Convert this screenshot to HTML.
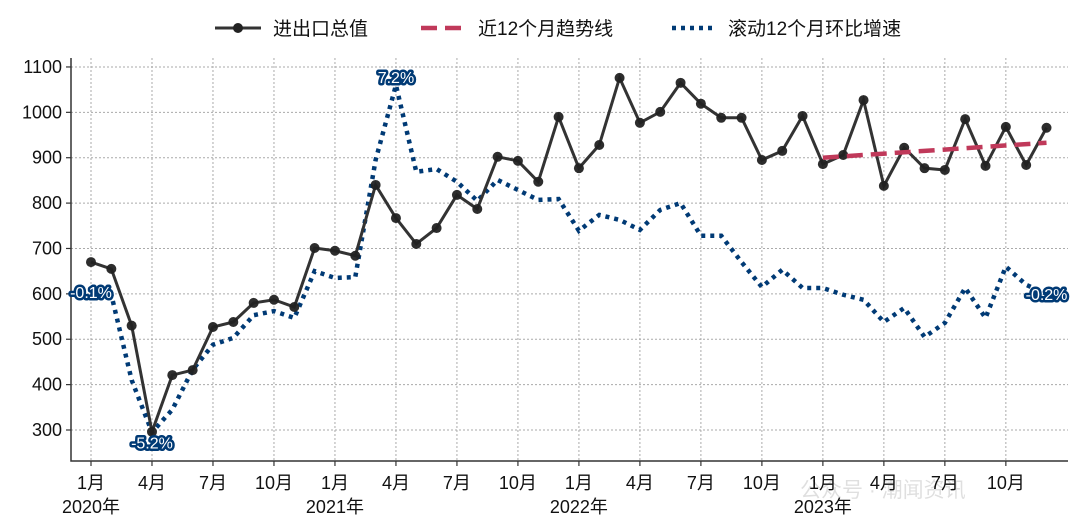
<!DOCTYPE html>
<html><head><meta charset="utf-8">
<style>
html,body{margin:0;padding:0;background:#fff;}
svg{display:block;font-family:"Liberation Sans","Noto Sans CJK SC",sans-serif;}
</style></head>
<body>
<svg id="chart" width="1080" height="530" viewBox="0 0 1080 530">
<g id="grid"></g>
<g id="axes"></g>
<g id="series"></g>
<g id="labels"></g>
<g id="legend">
  <g>
    <line x1="215" y1="28" x2="261" y2="28" stroke="#333" stroke-width="3"/>
    <circle cx="238" cy="28" r="5" fill="#222"/>
    <text x="273" y="35" font-size="19" fill="#111">进出口总值</text>
  </g>
  <g>
    <line x1="421" y1="28" x2="465" y2="28" stroke="#c0395a" stroke-width="4.5" stroke-dasharray="16,8"/>
    <text x="478" y="35" font-size="19" fill="#111">近12个月趋势线</text>
  </g>
  <g>
    <line x1="672" y1="28" x2="716" y2="28" stroke="#003a75" stroke-width="4.5" stroke-dasharray="4,5"/>
    <text x="728" y="35" font-size="19" fill="#111">滚动12个月环比增速</text>
  </g>
</g>
<text x="800" y="497" font-size="21" fill="#000" opacity="0.12">公众号 · 潮闻资讯</text>
</svg>
<script>
const months = ["1月","2月","3月","4月","5月","6月","7月","8月","9月","10月","11月","12月"];
const years = ["2020年","2021年","2022年","2023年"];
const yTicks = [300,400,500,600,700,800,900,1000,1100];
const totalValues = [670,655,530,296,421,432,527,538,580,587,571,701,
  695,684,840,767,710,745,818,787,902,893,847,990,
  877,928,1076,977,1001,1065,1019,988,988,895,915,992,
  886,906,1027,838,922,877,873,985,882,968,884,966];
const growthValues = [604,598,410,295,345,433,488,503,553,562,547,650,
  635,637,895,1060,869,875,847,805,851,829,807,809,
  739,774,763,741,785,800,728,728,670,615,653,613,
  613,598,587,538,569,505,536,613,547,660,620,600];
const trendStart = 900, trendEnd = 933;
const growthLabels = [[0,"-0.1%"],[3,"-5.2%"],[15,"7.2%"],[47,"-0.2%"]];

const NS="http://www.w3.org/2000/svg";
const X0=91, DX=20.33, Y0=430, YK=0.4538;
const xs=i=>X0+i*DX;
const ys=v=>Y0-(v-300)*YK;
function mk(tag,attrs,parent){const e=document.createElementNS(NS,tag);for(const k in attrs)e.setAttribute(k,attrs[k]);parent.appendChild(e);return e;}
const grid=document.getElementById('grid'),axes=document.getElementById('axes'),series=document.getElementById('series'),labels=document.getElementById('labels');
const L=71,R=1068,T=58,B=461;
yTicks.forEach(v=>{
  const y=ys(v);
  const g=mk('line',{x1:L,x2:R,y1:y,y2:y,stroke:'#aaa','stroke-width':1,'stroke-dasharray':'2,2'},grid);
  
  
  mk('line',{x1:L-5,x2:L,y1:y,y2:y,stroke:'#333','stroke-width':1.2},axes);
  const t=mk('text',{x:L-9,y:y+6,'text-anchor':'end','font-size':18,fill:'#111'},axes);
  t.textContent=v;
  
  
});
for(let i=0;i<48;i+=3){
  const x=xs(i);
  const g=mk('line',{x1:x,x2:x,y1:T,y2:B,stroke:'#aaa','stroke-width':1,'stroke-dasharray':'2,2'},grid);
  
  
  mk('line',{x1:x,x2:x,y1:B,y2:B+5,stroke:'#333','stroke-width':1.2},axes);
  const t=mk('text',{x:x,y:489,'text-anchor':'middle','font-size':18,fill:'#111'},axes);
  t.textContent=months[i%12];
  
  
  if(i%12===0){
    const yt=mk('text',{x:x,y:513,'text-anchor':'middle','font-size':18,fill:'#111'},axes);
    yt.textContent=years[i/12];
    
    
  }
}
mk('path',{d:`M${L},${T}V${B}H${R}`,fill:'none',stroke:'#333','stroke-width':1.5},axes);

const gp=mk('polyline',{points:growthValues.map((v,i)=>xs(i)+','+ys(v)).join(' '),fill:'none',stroke:'#003a75','stroke-width':4.5,'stroke-dasharray':'4,5'},series);


const tp=mk('polyline',{points:totalValues.map((v,i)=>xs(i)+','+ys(v)).join(' '),fill:'none',stroke:'#333','stroke-width':3},series);


totalValues.forEach((v,i)=>{
  const c=mk('circle',{cx:xs(i),cy:ys(v),r:5,fill:'#222',opacity:0.95},series);
  
  
});
const tl=mk('line',{x1:xs(36),y1:ys(trendStart),x2:xs(47),y2:ys(trendEnd),stroke:'#c0395a','stroke-width':4.5,'stroke-dasharray':'16,8'},series);



growthLabels.forEach(([i,s])=>{
  const x=xs(i),y=ys(growthValues[i])+ (i===3?10:0) + (i===15?-8:0);
  const t=mk('text',{x:x,y:y+6,'text-anchor':'middle','font-size':16,fill:'#fff',stroke:'#003a75','stroke-width':5,'stroke-linejoin':'round','paint-order':'stroke'},labels);
  t.textContent=s;
  
  
});
</script>
</body></html>
